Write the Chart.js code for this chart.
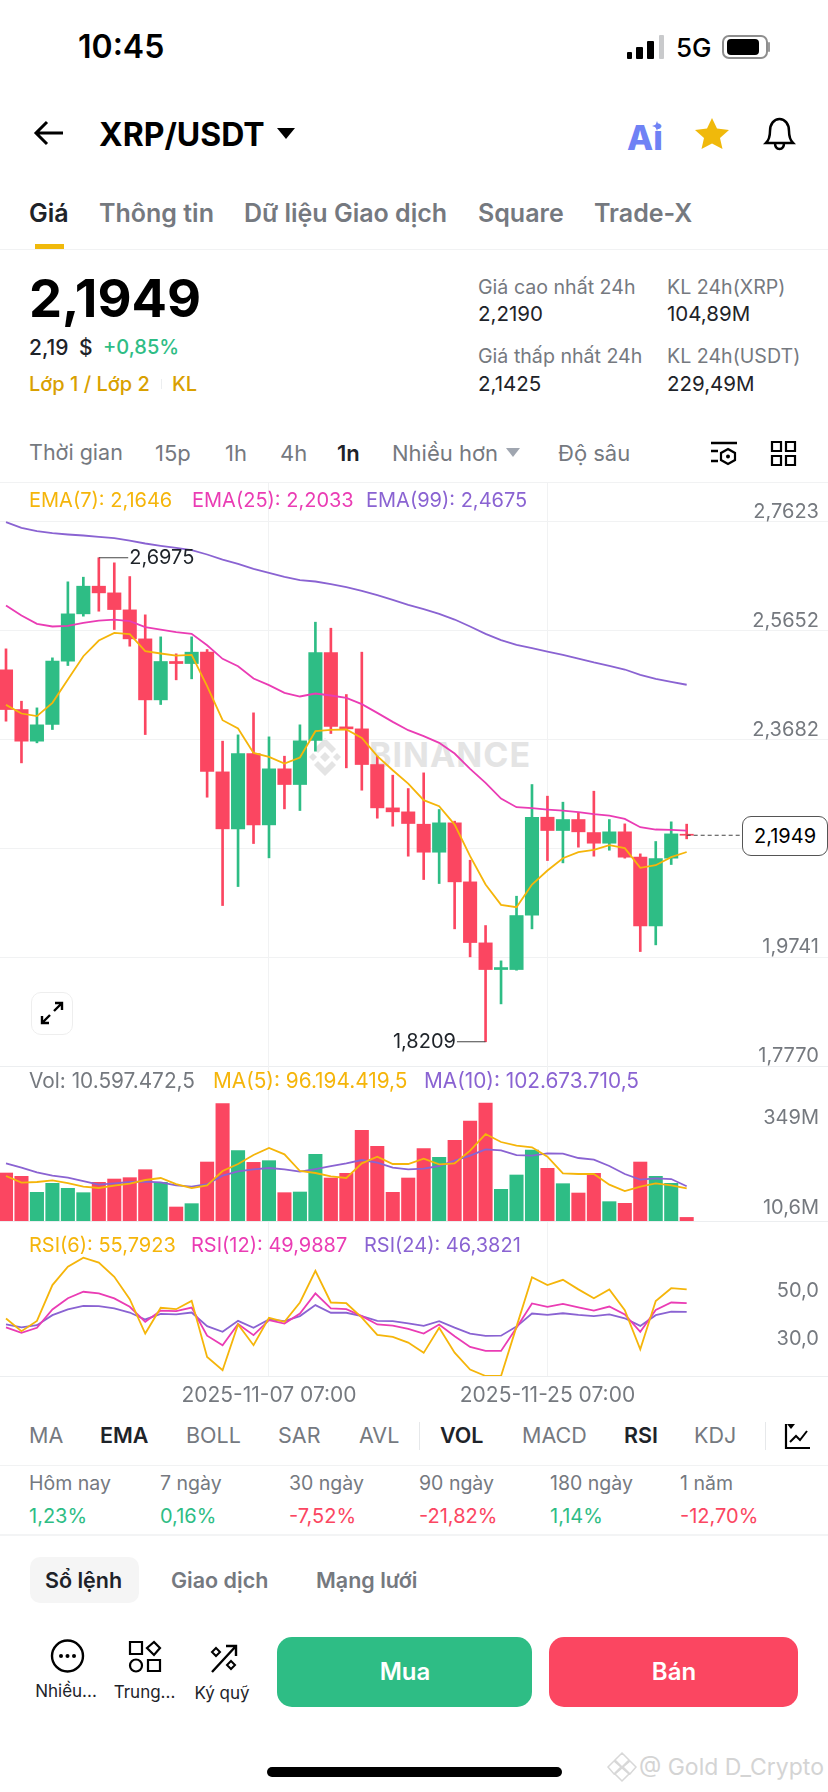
<!DOCTYPE html>
<html lang="vi">
<head>
<meta charset="utf-8">
<title>XRP/USDT</title>
<script src="https://cdn.jsdelivr.net/npm/chart.js@4/dist/chart.umd.min.js"></script>
<style>
  html, body { margin: 0; padding: 0; background: #fff; }
  body { position: relative; width: 828px; height: 1792px; overflow: hidden; font-family: Inter, "Noto Sans", sans-serif; color: #1e2329; }
  canvas { position: absolute; left: 0; z-index: 1; }
  .t { position: absolute; white-space: nowrap; line-height: 1; transform: translateY(-50%); z-index: 2; }
  .box, svg { position: absolute; }
  svg { z-index: 2; overflow: visible; }
  .wm { z-index: 0; }
</style>
</head>
<body>
<canvas id="priceChart" width="828" height="584" style="top:482px"></canvas>
<canvas id="volChart" width="828" height="155" style="top:1066px"></canvas>
<canvas id="rsiChart" width="828" height="188" style="top:1222px"></canvas>
<script>
const dates = ["2025-10-21","2025-10-22","2025-10-23","2025-10-24","2025-10-25","2025-10-26","2025-10-27","2025-10-28","2025-10-29","2025-10-30","2025-10-31",
  "2025-11-01","2025-11-02","2025-11-03","2025-11-04","2025-11-05","2025-11-06","2025-11-07","2025-11-08","2025-11-09","2025-11-10","2025-11-11","2025-11-12",
  "2025-11-13","2025-11-14","2025-11-15","2025-11-16","2025-11-17","2025-11-18","2025-11-19","2025-11-20","2025-11-21","2025-11-22","2025-11-23","2025-11-24",
  "2025-11-25","2025-11-26","2025-11-27","2025-11-28","2025-11-29","2025-11-30","2025-12-01","2025-12-02","2025-12-03","2025-12-04"];
const opens = [2.4945,2.4226,2.3653,2.3955,2.5102,2.5959,2.6460,2.6339,2.6031,2.5506,2.4401,2.5096,2.5059,2.5265,2.3097,2.2065,2.3429,2.2137,2.3152,2.2868,2.3665,2.5259,2.3912,
  2.3876,2.3230,2.2445,2.2373,2.2149,2.1642,2.2174,2.1105,2.0000,1.9517,1.9517,2.0501,2.2276,2.2035,2.2234,2.1998,2.1805,2.2011,2.1552,2.0308,2.1534,2.1968];
const closes = [2.4226,2.3653,2.3949,2.5102,2.5959,2.6460,2.6339,2.6037,2.5506,2.4401,2.5096,2.5059,2.5265,2.3103,2.2065,2.3429,2.2137,2.3152,2.2868,2.3659,2.5259,2.3918,2.3876,
  2.3230,2.2445,2.2373,2.2162,2.1642,2.2174,2.1105,2.0006,1.9517,1.9553,2.0495,2.2276,2.2035,2.2234,2.2011,2.1805,2.2011,2.1552,2.0308,2.1528,2.1974,2.1949];
const highs = [2.5325,2.4377,2.4256,2.5162,2.6539,2.6623,2.6975,2.6883,2.6635,2.5941,2.5542,2.5235,2.5542,2.5313,2.3653,2.3767,2.4166,2.3731,2.3381,2.3949,2.5808,2.5699,2.4498,
  2.5265,2.3381,2.3037,2.2795,2.3079,2.2415,2.2204,2.1497,2.0314,1.9674,2.0845,2.2868,2.2657,2.2548,2.2355,2.2747,2.2234,2.2155,2.1612,2.1836,2.2192,2.2150];
const lows = [2.4015,2.3260,2.3623,2.3864,2.5023,2.5917,2.6007,2.5675,2.5373,2.3773,2.4317,2.4764,2.4782,2.2638,2.0676,2.1020,2.1799,2.1540,2.2427,2.2397,2.3472,2.3792,2.3170,
  2.2765,2.2258,2.2113,2.1570,2.1147,2.1075,2.0254,1.9747,1.8209,1.8895,1.9505,2.0254,2.1491,2.1449,2.1733,2.1570,2.1678,2.1534,1.9843,1.9964,2.1419,2.1884];
const ema7 = [2.4311,2.4154,2.4106,2.4347,2.4770,2.5192,2.5476,2.5615,2.5591,2.5283,2.5241,2.5204,2.5216,2.4649,2.4033,2.3882,2.3441,2.3369,2.3248,2.3357,2.3834,2.3858,2.3864,
  2.3713,2.3381,2.3127,2.2886,2.2584,2.2475,2.2143,2.1570,2.1057,2.0688,2.0646,2.1057,2.1310,2.1534,2.1642,2.1685,2.1769,2.1715,2.1359,2.1407,2.1552,2.1646];
const ema25 = [2.6110,2.5929,2.5778,2.5730,2.5742,2.5796,2.5838,2.5856,2.5826,2.5717,2.5675,2.5627,2.5597,2.5391,2.5144,2.5011,2.4788,2.4667,2.4528,2.4462,2.4516,2.4480,2.4438,
  2.4323,2.4166,2.4003,2.3852,2.3743,2.3623,2.3429,2.3152,2.2898,2.2614,2.2457,2.2439,2.2415,2.2397,2.2367,2.2331,2.2306,2.2246,2.2095,2.2053,2.2047,2.2033];
const ema99 = [2.7619,2.7517,2.7456,2.7420,2.7396,2.7378,2.7354,2.7329,2.7287,2.7233,2.7191,2.7154,2.7112,2.7034,2.6943,2.6865,2.6774,2.6702,2.6629,2.6569,2.6545,2.6496,2.6442,
  2.6376,2.6297,2.6213,2.6122,2.6043,2.5959,2.5856,2.5730,2.5597,2.5482,2.5397,2.5337,2.5277,2.5216,2.5150,2.5078,2.5017,2.4951,2.4854,2.4782,2.4727,2.4675];
const volumes = [142.0,132.1,84.8,111.4,96.6,83.8,114.4,124.2,128.2,151.8,114.4,41.4,51.3,174.5,347.1,208.0,173.5,178.5,83.8,85.8,197.2,127.2,141.0,
  268.2,220.9,84.8,127.2,214.0,188.3,238.6,295.8,349.0,93.7,136.1,210.0,155.8,110.4,82.8,141.0,57.2,52.3,174.5,132.1,111.4,10.6];
const ma5 = [133.1,113.4,115.4,120.3,112.4,101.6,97.6,104.5,110.4,121.3,127.2,109.4,97.6,105.5,147.9,168.6,195.2,215.9,197.2,147.9,142.0,132.1,127.2,
  170.6,190.3,168.6,168.6,184.4,167.6,170.6,208.0,257.3,233.7,222.8,217.9,190.3,141.0,139.0,139.0,107.5,88.7,101.6,111.4,105.5,96.2];
const ma10 = [170.6,157.8,144.0,134.1,128.2,118.3,107.5,111.4,115.4,116.3,114.4,105.5,101.6,109.4,134.1,146.9,152.8,156.8,152.8,145.9,153.8,162.7,170.6,
  180.4,172.6,157.8,152.8,154.8,162.7,178.5,193.3,212.0,209.0,195.2,193.3,200.2,199.2,186.4,181.4,162.7,139.0,122.3,126.2,124.2,102.7];
const rsi6 = [43.6,38.3,42.6,57.6,65.3,69.1,67.0,61.1,51.7,37.3,48.1,47.5,51.0,27.5,21.9,41.1,32.4,43.9,42.2,50.3,63.6,50.3,50.0,
  44.0,36.7,35.9,33.5,29.2,39.7,29.3,22.2,19.5,19.5,40.2,60.9,57.6,59.8,55.8,52.1,55.8,47.1,30.7,50.9,56.3,55.8];
const rsi12 = [39.9,37.6,39.7,47.4,52.1,54.8,54.1,52.0,48.5,42.2,46.9,46.7,48.2,36.4,32.4,41.3,36.6,42.9,41.5,45.7,54.1,47.8,47.5,
  44.6,41.1,40.6,39.2,37.3,41.1,36.2,31.7,30.0,30.0,39.7,49.9,48.5,49.7,48.3,46.9,48.6,45.3,38.0,47.2,50.3,50.0];
const rsi24 = [41.1,39.9,40.8,45.0,47.4,48.9,48.8,47.8,46.1,43.2,45.5,45.3,46.1,40.4,38.0,42.6,39.7,43.2,42.5,44.6,49.2,46.0,46.0,
  44.6,42.6,42.5,41.6,40.5,42.5,39.8,37.3,36.3,36.4,40.2,45.7,45.1,45.8,45.1,44.6,45.3,43.7,40.5,45.0,46.5,46.4];
const priceTicks = [2.7623,2.5652,2.3682,2.1711,1.9741,1.7770];
const priceTickLabels = ["2,7623","2,5652","2,3682","","1,9741","1,7770"];
const rsiTicks = [50,30];
const rsiTickLabels = ["50,0","30,0"];
const dateTicks = [17,35];
const lastPrice = 2.1949, highPrice = 2.6975, lowPrice = 1.8209;

const GREEN = "#2ebd85", RED = "#fb4661", YEL = "#f5b50a", PINK = "#ea3cb4", PURP = "#8a63d2";
const GRAY = "#75797f", GRID = "#f1f2f3", INK = "#1e2329";
const FONT = "Inter";
const LEFT = 29;
const AXIS_X = 52.55; // right edge of the axis text, in candle units
const xIdx = dates.map((_, i) => i);
const candleColors = closes.map((c, i) => c >= opens[i] ? GREEN : RED);
const toPts = arr => arr.map((v, i) => ({ x: i, y: v }));

function lineDs(label, arr, color, order) {
  return { type: "line", label, data: toPts(arr), borderColor: color, borderWidth: 1.8, pointRadius: 0, tension: 0, order };
}
function xScale(extra) {
  return Object.assign({
    type: "linear", min: -0.388, max: 53.135, offset: false,
    afterBuildTicks: s => { s.ticks = dateTicks.map(v => ({ value: v })); },
    grid: { color: GRID, drawTicks: false, lineWidth: 1, offset: false },
    border: { display: false },
    ticks: { display: false },
  }, extra || {});
}
function axisNotes(ticks, labels, dy) {
  return ticks.map((v, i) => ({ x: AXIS_X, y: v, text: labels[i], align: "right", color: GRAY, dy }));
}

// text pinned to data values; tick labels sit above their grid line, which the axes cannot do
const notesPlugin = {
  id: "notes",
  afterDatasetsDraw(chart, args, opts) {
    const c = chart.ctx;
    c.save();
    c.font = `20px ${FONT}`;
    c.textBaseline = "middle";
    for (const n of opts.items || []) {
      c.fillStyle = n.color;
      c.textAlign = n.align;
      c.fillText(n.text, chart.scales.x.getPixelForValue(n.x) + (n.dx || 0), chart.scales.y.getPixelForValue(n.y) + (n.dy || 0));
    }
    c.restore();
  },
};
Chart.register(notesPlugin);

new Chart(document.getElementById("priceChart"), {
  type: "bar",
  data: {
    datasets: [
      { label: "wick", data: xIdx.map(i => ({ x: i, y: [lows[i], highs[i]] })), backgroundColor: candleColors, barThickness: 2, grouped: false, order: 6 },
      { label: "body", data: xIdx.map(i => ({ x: i, y: [opens[i], closes[i]] })), backgroundColor: candleColors, barThickness: 13.4, grouped: false, order: 5 },
      lineDs("EMA(99)", ema99, PURP, 4),
      lineDs("EMA(25)", ema25, PINK, 3),
      lineDs("EMA(7)", ema7, YEL, 2),
      { type: "line", label: "last", data: [{ x: 44, y: lastPrice }, { x: 47.6, y: lastPrice }], borderColor: "#444", borderWidth: 1, borderDash: [4, 3], pointRadius: 0, order: 1 },
      { type: "line", label: "high", data: [{ x: 6, y: highPrice }, { x: 7.9, y: highPrice }], borderColor: "#444", borderWidth: 1, pointRadius: 0, order: 1 },
      { type: "line", label: "low", data: [{ x: 31, y: lowPrice }, { x: 29.15, y: lowPrice }], borderColor: "#444", borderWidth: 1, pointRadius: 0, order: 1 },
    ],
  },
  options: {
    responsive: false, animation: false, events: [],
    layout: { padding: 0, autoPadding: false },
    plugins: { legend: { display: false }, tooltip: { enabled: false },
      notes: { items: [
        { x: 7.9, y: highPrice, text: "2,6975", align: "left", color: INK, dx: 1 },
        { x: 29.15, y: lowPrice, text: "1,8209", align: "right", color: INK, dx: -1 },
        ...axisNotes(priceTicks, priceTickLabels, -10),
      ] } },
    scales: {
      x: xScale(),
      y: {
        position: "right", min: 1.7770, max: 2.8347,
        afterBuildTicks: s => { s.ticks = priceTicks.map(v => ({ value: v })); },
        grid: { color: GRID, drawTicks: false },
        border: { display: false },
        ticks: { display: false },
      },
    },
  },
});

new Chart(document.getElementById("volChart"), {
  type: "bar",
  data: {
    datasets: [
      { label: "Vol", data: toPts(volumes), backgroundColor: candleColors, barThickness: 13.4, grouped: false, order: 3 },
      lineDs("MA(10)", ma10, PURP, 2),
      lineDs("MA(5)", ma5, YEL, 1),
    ],
  },
  options: {
    responsive: false, animation: false, events: [],
    layout: { padding: 0, autoPadding: false },
    plugins: { legend: { display: false }, tooltip: { enabled: false },
      notes: { items: [
        { x: AXIS_X, y: 349, text: "349M", align: "right", color: GRAY, dy: 15 },
        { x: AXIS_X, y: 10.6, text: "10,6M", align: "right", color: GRAY, dy: -9 },
      ] } },
    scales: {
      x: xScale(),
      y: { position: "right", min: 0, max: 458.6, grid: { display: false, drawTicks: false }, border: { display: false }, ticks: { display: false } },
    },
  },
});

new Chart(document.getElementById("rsiChart"), {
  type: "line",
  data: {
    datasets: [
      lineDs("RSI(24)", rsi24, PURP, 3),
      lineDs("RSI(12)", rsi12, PINK, 2),
      lineDs("RSI(6)", rsi6, YEL, 1),
    ],
  },
  options: {
    responsive: false, animation: false, events: [],
    layout: { padding: 0, autoPadding: false },
    plugins: { legend: { display: false }, tooltip: { enabled: false },
      notes: { items: axisNotes(rsiTicks, rsiTickLabels, -12) } },
    scales: {
      x: xScale({
        afterFit: s => { s.height = 34; },
        ticks: { display: true, autoSkip: false, maxRotation: 0, padding: 7, color: GRAY, font: { family: FONT, size: 21 },
          callback: v => `${dates[v]} 07:00` },
      }),
      y: {
        position: "right", min: 19.5, max: 84.04,
        grid: { display: false, drawTicks: false },
        border: { display: false },
        ticks: { display: false },
      },
    },
  },
});

// --- app chrome around the chart ---
function label(x, y, text, size, color, weight, align) {
  const el = document.createElement("div");
  el.className = "t";
  el.textContent = text;
  el.style.cssText = `top:${y}px;font-size:${size}px;color:${color};font-weight:${weight || 400};` +
    (align === "center" ? `left:${x}px;transform:translate(-50%,-50%);` : align === "right" ? `right:${828 - x}px;` : `left:${x}px;`);
  document.body.appendChild(el);
  return el;
}
function rect(x, y, w, h, bg, radius, extra) {
  const el = document.createElement("div");
  el.className = "box";
  el.style.cssText = `left:${x}px;top:${y}px;width:${w}px;height:${h}px;background:${bg};border-radius:${radius || 0}px;${extra || ""}`;
  document.body.appendChild(el);
  return el;
}
function icon(x, y, w, h, vb, inner) {
  document.body.insertAdjacentHTML("beforeend",
    `<svg style="left:${x}px;top:${y}px" width="${w}" height="${h}" viewBox="${vb}" fill="none">${inner}</svg>`);
}

// status bar
label(78, 47, "10:45", 32, "#000", 600);
rect(627, 52, 5, 7, "#000", 1); rect(636, 47, 7, 12, "#000", 1); rect(647, 41, 7, 18, "#000", 1); rect(659, 35, 5, 24, "#c9cacc", 1);
label(676, 48, "5G", 26, "#000", 500);
rect(722, 35, 42, 20, "#fff", 7, "border:2px solid #8e8e8e;");
rect(727, 39, 32, 16, "#000", 4);
rect(768, 42, 2, 10, "#9a9a9a", 1);

// header
icon(34, 120, 30, 26, "0 0 30 26", '<path d="M29 13H2M13 2L2 13l11 11" stroke="#000" stroke-width="3"/>');
label(99, 135, "XRP/USDT", 32, "#000", 700);
icon(277, 128, 18, 11, "0 0 18 11", '<path d="M0 0h18L9 11z" fill="#000"/>');
label(627, 138, "Ai", 34, "#6f82f5", 800);
icon(652, 121, 10, 10, "0 0 10 10", '<path d="M5 0l1.300 3.700L10 5 6.300 6.300 5 10 3.700 6.300 0 5l3.700-1.300z" fill="#6f82f5"/>');
icon(695, 118, 34, 31, "0 0 34 31", '<path d="M17 0l5 10.5 12 1.5-9 8 2.5 11L17 25.5 6.500 31 9 20l-9-8 12-1.500z" fill="#f0b90b"/>');
icon(764, 117, 31, 33, "0 0 31 33", '<path d="M2 26c3-3 4-6 4-12 0-7 4-12 9.500-12S25 7 25 14c0 6 1 9 4 12zM11 26c0 4 2 6 4.500 6s4.500-2 4.500-6" stroke="#000" stroke-width="2.500"/>');

// tabs
label(LEFT, 213, "Giá", 25, INK, 600);
label(99, 213, "Thông tin", 25, GRAY, 600);
label(244, 213, "Dữ liệu Giao dịch", 25, GRAY, 600);
label(478, 213, "Square", 25, GRAY, 600);
label(594, 213, "Trade-X", 25, GRAY, 600);
rect(35, 244, 29, 5, "#f0b90b");
rect(0, 249, 828, 1, GRID);

// price block
label(LEFT, 298, "2,1949", 52.5, "#000", 700);
label(LEFT, 347, "2,19 $", 21, INK, 500).style.wordSpacing = "5px";
label(103, 347, "+0,85%", 20, GREEN, 500);
label(LEFT, 384, "Lớp 1 / Lớp 2", 20, "#d9a000", 500);
rect(161, 379, 1, 10, "#eceef0");
label(172, 384, "KL", 20, "#d9a000", 500);
label(478, 288, "Giá cao nhất 24h", 19.6, GRAY);
label(667, 288, "KL 24h(XRP)", 19.6, GRAY);
label(478, 314, "2,2190", 20.5, INK);
label(667, 314, "104,89M", 20.5, INK);
label(478, 357, "Giá thấp nhất 24h", 19.6, GRAY);
label(667, 357, "KL 24h(USDT)", 19.6, GRAY);
label(478, 384, "2,1425", 20.5, INK);
label(667, 384, "229,49M", 20.5, INK);

// interval row
label(LEFT, 453, "Thời gian", 21.5, GRAY);
label(155, 453, "15p", 22, GRAY);
label(225, 453, "1h", 22, GRAY);
label(280, 453, "4h", 22, GRAY);
label(337, 453, "1n", 22, INK, 600);
label(392, 453, "Nhiều hơn", 22, GRAY);
icon(506, 448, 14, 9, "0 0 14 9", `<path d="M0 0h14L7 9z" fill="#a0a6b0"/>`);
label(558, 453, "Độ sâu", 22, GRAY);
icon(710, 441, 28, 25, "0 0 28 25", '<path d="M1 2h26M1 10h7M1 20h7" stroke="#000" stroke-width="2.500"/><path d="M18 8l7 4v7l-7 4-7-4v-7z" stroke="#000" stroke-width="2.200"/><circle cx="18" cy="15.500" r="2" fill="#000"/>');
icon(771, 441, 25, 25, "0 0 25 25", '<path d="M1 1h9v9H1zM15 1h9v9h-9zM1 15h9v9H1zM15 15h9v9h-9z" stroke="#000" stroke-width="2.200"/>');

// chart frame and legends
rect(0, 482, 828, 1, GRID);
rect(0, 1066, 828, 1, "#eceef0");
rect(0, 1221, 828, 1, "#eceef0");
rect(0, 1376, 828, 1, "#eceef0");
function legend(y, size, parts) {
  for (const [x, text, color] of parts) label(x, y, text, size, color);
}
legend(500, 20, [[LEFT, "EMA(7): 2,1646", YEL], [192, "EMA(25): 2,2033", PINK], [366, "EMA(99): 2,4675", PURP]]);
legend(1081, 20.8, [[LEFT, "Vol: 10.597.472,5", GRAY], [213, "MA(5): 96.194.419,5", YEL], [424, "MA(10): 102.673.710,5", PURP]]);
legend(1245, 20, [[LEFT, "RSI(6): 55,7923", YEL], [191, "RSI(12): 49,9887", PINK], [364, "RSI(24): 46,3821", PURP]]);

// watermark sits behind the canvases
const wmText = label(369, 755, "BINANCE", 34, "#e4e4e4", 700);
wmText.style.zIndex = 0;
wmText.style.letterSpacing = "1px";
document.body.insertAdjacentHTML("beforeend",
  `<svg class="wm" style="left:307px;top:737px" width="36" height="40" viewBox="0 0 36 40" fill="none"><path d="M18 1L7 12l4 4 7-7 7 7 4-4zM2 20l4-4 4 4-4 4zM26 20l4-4 4 4-4 4zM18 15l5 5-5 5-5-5zM18 39L7 28l4-4 7 7 7-7 4 4z" fill="#e4e4e4"/></svg>`);

// expand button
rect(31, 992, 40, 41, "#fff", 10, "border:1.500px solid #eeeeee;z-index:2;");
icon(40, 1001, 24, 24, "0 0 24 24", '<path d="M14 10l8-8M15 2h7v7M10 14l-8 8M9 22H2v-7" stroke="#000" stroke-width="2.400"/>');

// last price pill
rect(742, 816, 84, 38, "#fff", 9, "border:1.500px solid #555;z-index:2;");
label(785, 836, "2,1949", 20, "#000", 400, "center").style.zIndex = 3;

// indicator row
const indicators = [[LEFT, "MA", 0], [100, "EMA", 1], [186, "BOLL", 0], [278, "SAR", 0], [359, "AVL", 0], [440, "VOL", 1], [522, "MACD", 0], [624, "RSI", 1], [694, "KDJ", 0]];
for (const [x, t, on] of indicators) label(x, 1436, t, 21.5, on ? INK : GRAY, on ? 600 : 400);
rect(419, 1422, 1, 28, "#e6e8ea");
rect(765, 1422, 1, 28, "#e6e8ea");
icon(784, 1423, 26, 26, "0 0 26 26", '<path d="M2 1v24h24" stroke="#000" stroke-width="2.200"/><path d="M6 19l6-6 4 4 7-9" stroke="#000" stroke-width="2"/><path d="M3 1h8l-4 5z" fill="#000"/>');
rect(0, 1465, 828, 1, GRID);

// returns row
const returnCols = [[LEFT, "Hôm nay", "1,23%", GREEN], [160, "7 ngày", "0,16%", GREEN], [289, "30 ngày", "-7,52%", RED], [419, "90 ngày", "-21,82%", RED], [550, "180 ngày", "1,14%", GREEN], [680, "1 năm", "-12,70%", RED]];
for (const [x, a, b, c] of returnCols) { label(x, 1484, a, 19.5, GRAY); label(x, 1516, b, 20, c); }
rect(0, 1534, 828, 2, "#f3f4f5");

// book tabs
rect(30, 1557, 109, 46, "#f5f5f5", 10);
label(45, 1581, "Sổ lệnh", 21.5, INK, 600);
label(171, 1581, "Giao dịch", 21.5, GRAY, 600);
label(316, 1581, "Mạng lưới", 21.5, GRAY, 600);

// action bar
icon(51, 1639, 33, 34, "0 0 33 34", '<circle cx="16.500" cy="17" r="15.500" stroke="#000" stroke-width="2.400"/><circle cx="10" cy="17" r="2" fill="#000"/><circle cx="16.500" cy="17" r="2" fill="#000"/><circle cx="23" cy="17" r="2" fill="#000"/>');
icon(129, 1641, 32, 31, "0 0 32 31", '<path d="M1 1h12v12H1zM18 7l7-6 6 6-6 7zM19 19h12v11H19z" stroke="#000" stroke-width="2.200"/><circle cx="7" cy="24.500" r="6" stroke="#000" stroke-width="2.200"/>');
icon(209, 1644, 29, 29, "0 0 29 29", '<path d="M3 28L27 2M17 2h10v10" stroke="#000" stroke-width="2.400"/><path d="M7 4l4 4-4 4-4-4zM22 17l4 4-4 4-4-4z" stroke="#000" stroke-width="2"/>');
label(66, 1691, "Nhiều...", 17, INK, 400, "center");
label(144.5, 1692, "Trung...", 17, INK, 400, "center");
label(222, 1693, "Ký quỹ", 17, INK, 400, "center");
rect(277, 1637, 255, 70, GREEN, 15);
rect(549, 1637, 249, 70, RED, 15);
label(405, 1672, "Mua", 24, "#fff", 600, "center");
label(674, 1672, "Bán", 24, "#fff", 600, "center");

// home bar and image credit
rect(267, 1767, 295, 10, "#000", 5);
label(639, 1767, "@ Gold D_Crypto", 23, "#d4d4d4", 400);
icon(607, 1752, 30, 30, "0 0 30 30", '<path d="M15 1l7 7-7 7-7-7zM1 15l6-6 7 6-7 7zM29 15l-6-6-7 6 7 7zM15 16l7 6-7 7-7-7z" stroke="#d8d8d8" stroke-width="1.500"/>');
</script>
</body>
</html>
